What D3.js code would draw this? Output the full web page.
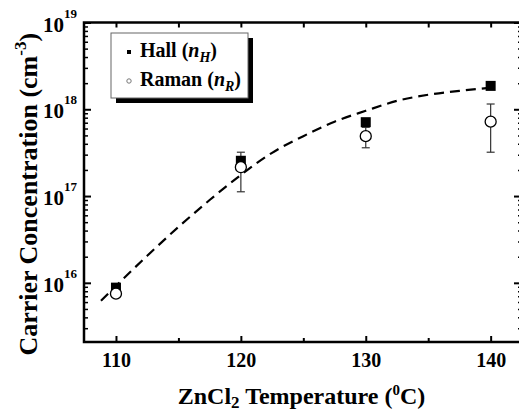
<!DOCTYPE html>
<html><head><meta charset="utf-8">
<script src="https://cdn.jsdelivr.net/npm/d3@7"></script>
<style>
html,body{margin:0;padding:0;background:#fff;}
svg{display:block;}
svg text{font-weight:bold;fill:#000;}
</style></head>
<body>
<script>
// ---- data ----
const temps = [110, 120, 130, 140];
const hall = [8.8e15, 2.55e17, 7.1e17, 1.86e18];
const raman = [7.5e15, 2.15e17, 4.9e17, 7.2e17];
const ramanLow = [null, 1.12e17, 3.6e17, 3.2e17];
const ramanHigh = [null, 3.2e17, 6.2e17, 1.15e18];
const fitT = [108.8, 110, 112.5, 115, 117.5, 120, 122.5, 125, 127.5, 130, 132.5, 135, 137.5, 140];
const fitN = [6.2e15, 9.2e15, 2.05e16, 4.4e16, 9.0e16, 1.75e17, 3.15e17, 4.9e17, 7.2e17, 9.6e17, 1.25e18, 1.47e18, 1.63e18, 1.77e18];
const xMajor = [110, 120, 130, 140];
const xMinor = [115, 125, 135];
const xTop = [110, 115, 120, 125, 130, 135, 140];
const yExp = [16, 17, 18, 19];

const W = 519, H = 412;
const L = 84, R = 521, T = 22.5, B = 342;
const SERIF = "Liberation Serif";

const svg = d3.select("body").append("svg").attr("width", W).attr("height", H)
  .attr("font-family", SERIF);

const x = d3.scaleLinear().domain([107.44, 142.43]).range([L, R]);
const y = d3.scaleLog().domain([2.08e15, 1e19]).range([B, T]);

const yMinor = [];
for (let e = 15; e <= 18; e++) for (let m = 2; m <= 9; m++) {
  const v = m * Math.pow(10, e);
  if (v > 2.08e15 && v < 1e19) yMinor.push(v);
}
const yMajor = yExp.map(e => Math.pow(10, e));

function styleAxis(g, sw) {
  g.attr("font-family", SERIF);
  g.select(".domain").remove();
  g.selectAll(".tick line").attr("stroke", "#000").attr("stroke-width", sw);
}

// bottom axis
svg.append("g").attr("transform", `translate(0,${B})`)
  .call(d3.axisBottom(x).tickValues(xMajor).tickSize(-6).tickFormat(d3.format("d")))
  .call(g => { styleAxis(g, 2); g.selectAll("text").attr("font-size", 20).attr("dy", null).attr("y", 25).attr("font-family", SERIF); });
svg.append("g").attr("transform", `translate(0,${B})`)
  .call(d3.axisBottom(x).tickValues(xMinor).tickSize(-4).tickFormat(""))
  .call(g => styleAxis(g, 2));
// top axis
svg.append("g").attr("transform", `translate(0,${T})`)
  .call(d3.axisTop(x).tickValues(xTop).tickSize(-5).tickFormat(""))
  .call(g => styleAxis(g, 2));
// left axis
const la = svg.append("g").attr("transform", `translate(${L},0)`)
  .call(d3.axisLeft(y).tickValues(yMajor).tickSize(-7).tickFormat(""))
  .call(g => styleAxis(g, 2));
la.selectAll(".tick").each(function(d) {
  const t = d3.select(this).append("text").attr("x", -7).attr("y", 8.5)
    .attr("text-anchor", "end").attr("font-size", 21).attr("font-family", SERIF);
  t.append("tspan").text("10");
  t.append("tspan").attr("font-size", 13).attr("dy", -14).text(Math.round(Math.log10(d)));
});
svg.append("g").attr("transform", `translate(${L},0)`)
  .call(d3.axisLeft(y).tickValues(yMinor).tickSize(-4).tickFormat(""))
  .call(g => styleAxis(g, 1.5));
// right axis
svg.append("g").attr("transform", `translate(${R},0)`)
  .call(d3.axisRight(y).tickValues(yMajor).tickSize(-7).tickFormat(""))
  .call(g => styleAxis(g, 2));
svg.append("g").attr("transform", `translate(${R},0)`)
  .call(d3.axisRight(y).tickValues(yMinor).tickSize(-3).tickFormat(""))
  .call(g => styleAxis(g, 1.5));

// frame
svg.append("rect").attr("x", L).attr("y", T).attr("width", R - L).attr("height", B - T)
  .attr("fill", "none").attr("stroke", "#000").attr("stroke-width", 2.5);

// fit line
const line = d3.line().x((d, i) => x(fitT[i])).y((d, i) => y(fitN[i])).curve(d3.curveMonotoneX);
svg.append("path").datum(fitN).attr("d", line).attr("fill", "none")
  .attr("stroke", "#000").attr("stroke-width", 2.2).attr("stroke-dasharray", "10,6");

// error bars
const eb = svg.append("g").attr("stroke", "#333").attr("stroke-width", 1.2);
temps.forEach((t, i) => {
  if (ramanLow[i] == null) return;
  const cx = x(t);
  eb.append("line").attr("x1", cx).attr("x2", cx).attr("y1", y(ramanLow[i])).attr("y2", y(ramanHigh[i]));
  eb.append("line").attr("x1", cx - 4).attr("x2", cx + 4).attr("y1", y(ramanLow[i])).attr("y2", y(ramanLow[i]));
  eb.append("line").attr("x1", cx - 4).attr("x2", cx + 4).attr("y1", y(ramanHigh[i])).attr("y2", y(ramanHigh[i]));
});

// Hall squares
svg.append("g").selectAll("rect").data(hall).join("rect")
  .attr("x", (d, i) => x(temps[i]) - 5).attr("y", d => y(d) - 5)
  .attr("width", 10).attr("height", 10).attr("fill", "#000");
// Raman circles
svg.append("g").selectAll("circle").data(raman).join("circle")
  .attr("cx", (d, i) => x(temps[i])).attr("cy", d => y(d)).attr("r", 5.5)
  .attr("fill", "#fff").attr("stroke", "#000").attr("stroke-width", 1.3);

// legend
const lg = svg.append("g");
lg.append("rect").attr("x", 116).attr("y", 38).attr("width", 137).attr("height", 65).attr("fill", "#000");
lg.append("rect").attr("x", 111).attr("y", 33).attr("width", 137).attr("height", 65)
  .attr("fill", "#fff").attr("stroke", "#666").attr("stroke-width", 1);
lg.append("rect").attr("x", 127).attr("y", 50).attr("width", 4).attr("height", 4).attr("fill", "#000");
lg.append("circle").attr("cx", 129).attr("cy", 81).attr("r", 2.2).attr("fill", "#fff").attr("stroke", "#777").attr("stroke-width", 1);
const t1 = lg.append("text").attr("x", 140).attr("y", 57).attr("font-size", 20).attr("font-family", SERIF);
t1.append("tspan").text("Hall (");
t1.append("tspan").attr("font-style", "italic").text("n");
t1.append("tspan").attr("font-style", "italic").attr("font-size", 14).attr("dy", 5).text("H");
t1.append("tspan").attr("dy", -5).text(")");
const t2 = lg.append("text").attr("x", 140).attr("y", 86).attr("font-size", 20).attr("font-family", SERIF);
t2.append("tspan").text("Raman (");
t2.append("tspan").attr("font-style", "italic").text("n");
t2.append("tspan").attr("font-style", "italic").attr("font-size", 14).attr("dy", 5).text("R");
t2.append("tspan").attr("dy", -5).text(")");

// axis titles
const xt = svg.append("text").attr("x", (L + 519) / 2).attr("y", 404).attr("text-anchor", "middle")
  .attr("font-size", 24).attr("font-family", SERIF);
xt.append("tspan").text("ZnCl");
xt.append("tspan").attr("font-size", 17).attr("dy", 4).text("2");
xt.append("tspan").attr("dy", -4).text(" Temperature (");
xt.append("tspan").attr("font-size", 15).attr("dy", -9).text("0");
xt.append("tspan").attr("dy", 9).text("C)");

const yt = svg.append("text").attr("transform", `translate(37,${(T + B) / 2 + 12}) rotate(-90)`)
  .attr("text-anchor", "middle").attr("font-size", 26).attr("font-family", SERIF);
yt.append("tspan").text("Carrier Concentration (cm");
yt.append("tspan").attr("font-size", 17).attr("dy", -11).text("-3");
yt.append("tspan").attr("dy", 11).text(")");
</script>
</body></html>
